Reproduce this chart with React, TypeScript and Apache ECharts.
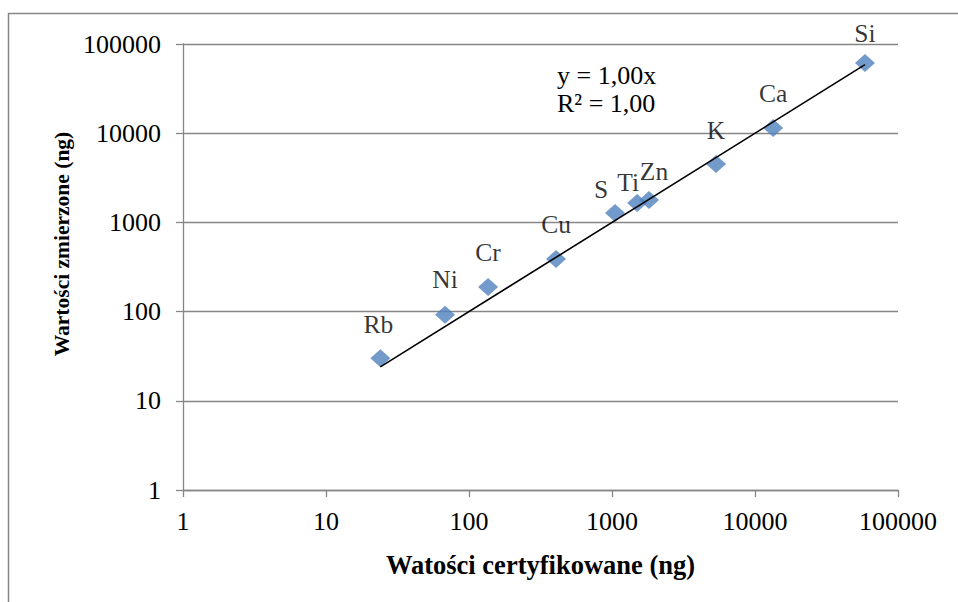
import React, { useEffect, useRef } from "react";
import * as echarts from "echarts";

const elements = ["Rb", "Ni", "Cr", "Cu", "S", "Ti", "Zn", "K", "Ca", "Si"];
const certified = [24, 68, 136, 406, 1050, 1500, 1815, 5340, 13400, 58750];
const measured = [30, 92, 189, 389, 1275, 1650, 1783, 4515, 11430, 61200];
const trendSlope = 1.0;
const equationLines = ["y = 1,00x", "R² = 1,00"];
const xTitle = "Watości certyfikowane (ng)";
const yTitle = "Wartości zmierzone (ng)";
const axisMin = 1;
const axisMax = 100000;

// label placement tweaks (styling only)
const labelOffsets: Record<string, [number, number]> = {
  Rb: [-2, -34],
  Ni: [0, -35],
  Cr: [0, -34],
  Cu: [0, -34],
  S: [-14, -23],
  Ti: [-9, -21],
  Zn: [5, -28],
  K: [0, -34],
  Ca: [0, -35],
  Si: [0, -30],
};

const FONT = "Liberation Serif";
const GRAY = "#868686";

export default function App() {
  const ref = useRef<HTMLDivElement>(null);
  useEffect(() => {
    if (!ref.current) return;
    const chart = echarts.init(ref.current, null, { renderer: "svg" });
    const xmin = Math.min(...certified);
    const xmax = Math.max(...certified);
    const points = elements.map((name, i) => ({
      name,
      value: [certified[i], measured[i]],
      label: { offset: labelOffsets[name] },
    }));
    const tickFmt = (v: number) => String(Math.round(v));
    chart.setOption({
      animation: false,
      backgroundColor: "#ffffff",
      textStyle: { fontFamily: FONT },
      grid: { left: 183, right: 60, top: 44, bottom: 112, containLabel: false },
      xAxis: {
        type: "log",
        logBase: 10,
        min: axisMin,
        max: axisMax,
        name: xTitle,
        nameLocation: "middle",
        nameGap: 61,
        nameTextStyle: { fontFamily: FONT, fontSize: 26.5, fontWeight: "bold", color: "#000" },
        axisLine: { show: true, lineStyle: { color: GRAY, width: 1.3 } },
        axisTick: { show: true, inside: false, length: 7, lineStyle: { color: GRAY, width: 1.3 } },
        minorTick: { show: false },
        splitLine: { show: false },
        axisLabel: { fontFamily: FONT, fontSize: 26, color: "#000", margin: 18, formatter: tickFmt },
      },
      yAxis: {
        type: "log",
        logBase: 10,
        min: axisMin,
        max: axisMax,
        axisLine: { show: true, lineStyle: { color: GRAY, width: 1.3 } },
        axisTick: { show: true, inside: false, length: 7, lineStyle: { color: GRAY, width: 1.3 } },
        splitLine: { show: true, lineStyle: { color: GRAY, width: 1.3 } },
        axisLabel: { fontFamily: FONT, fontSize: 26, color: "#000", margin: 22, formatter: tickFmt },
      },
      graphic: [
        {
          type: "rect",
          shape: { x: 8.5, y: 13.5, width: 1000, height: 1000 },
          style: { fill: "none", stroke: GRAY, lineWidth: 1.5 },
          silent: true,
        },
        {
          type: "text",
          x: 62,
          y: 244,
          rotation: Math.PI / 2,
          style: {
            text: yTitle,
            fontFamily: FONT,
            fontSize: 21.5,
            fontWeight: "bold",
            fill: "#000",
            align: "center",
            verticalAlign: "middle",
          },
        },
        {
          type: "text",
          x: 557,
          y: 75,
          style: {
            text: equationLines[0],
            fontFamily: FONT,
            fontSize: 26,
            fill: "#000",
            align: "left",
            verticalAlign: "middle",
          },
        },
        {
          type: "text",
          x: 557,
          y: 103,
          style: {
            text: equationLines[1],
            fontFamily: FONT,
            fontSize: 26,
            fill: "#000",
            align: "left",
            verticalAlign: "middle",
          },
        },
      ],
      series: [
        {
          type: "line",
          data: [
            [xmin, trendSlope * xmin],
            [xmax, trendSlope * xmax],
          ],
          showSymbol: false,
          symbol: "none",
          lineStyle: { color: "#000", width: 1.6 },
          silent: true,
          z: 3,
        },
        {
          type: "scatter",
          data: points,
          symbol: "diamond",
          symbolSize: [20, 18],
          itemStyle: { color: "#4F81BD" },
          z: 2,
          label: {
            show: true,
            position: "inside",
            formatter: (p: any) => p.name,
            fontFamily: FONT,
            fontSize: 25.5,
            color: "#000",
          },
        },
      ],
    });
    return () => chart.dispose();
  }, []);
  return (
    <div
      ref={ref}
      style={{ position: "fixed", left: 0, top: 0, width: 958, height: 602 }}
    />
  );
}
